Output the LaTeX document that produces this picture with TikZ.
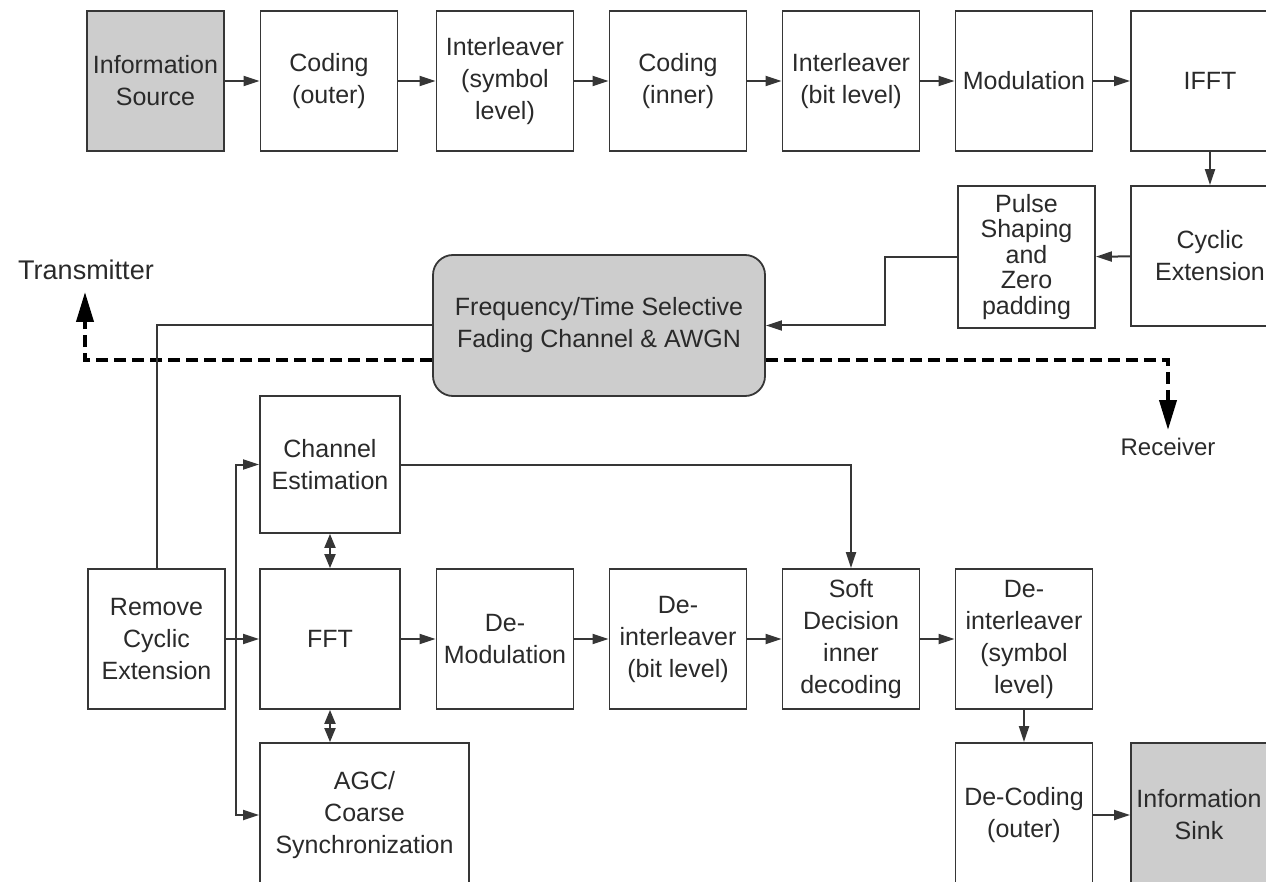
\documentclass[tikz,border=0pt]{standalone}
\usepackage{fontspec}
\setmainfont{Liberation Sans}
\usetikzlibrary{arrows.meta,calc}
\definecolor{boxgray}{HTML}{CDCDCD}
\definecolor{ln}{HTML}{363636}
\definecolor{txt}{HTML}{2A2A2A}
\begin{document}
\begin{tikzpicture}[x=1pt,y=-1pt,
  blk/.style={draw=ln, line width=1.8pt, fill=white, inner sep=0pt, align=center,
    text=txt, font=\fontsize{25}{32}\selectfont, minimum width=137pt, minimum height=140pt},
  shaded/.style={fill=boxgray},
  arr/.style={draw=ln, line width=2pt, -{Triangle[length=16pt,width=10pt]}},
  plain/.style={draw=ln, line width=2pt},
  dbl/.style={draw=ln, line width=2pt, {Triangle[length=14pt,width=11pt]}-{Triangle[length=14pt,width=11pt]}},
  dsh/.style={draw=black, line width=4pt, dash pattern=on 12pt off 6pt, -{Triangle[length=30pt,width=17pt]}},
  lbl/.style={text=txt, inner sep=0pt}
]
\useasboundingbox (0,0) rectangle (1266,882);
\clip (0,0) rectangle (1266,882);

% top row
\node[blk, shaded] (src) at (155.5,81) {Information\\Source};
\node[blk] (cod) at (329,81) {Coding\\(outer)};
\node[blk] (ilv) at (505,81) {Interleaver\\(symbol\\level)};
\node[blk] (codi) at (678,81) {Coding\\(inner)};
\node[blk] (ilb) at (851,81) {Interleaver\\(bit level)};
\node[blk] (mod) at (1024,81) {Modulation};
\node[blk, minimum width=158pt] (ifft) at (1210,81) {IFFT};

% second row
\node[blk, minimum height=142pt, font=\fontsize{25}{25.5}\selectfont] (pulse) at (1026.5,257) {Pulse\\Shaping\\and\\Zero\\padding};
\node[blk, minimum width=158pt] (cyc) at (1210,256) {Cyclic\\Extension};

% dashed transmitter / receiver arrows (behind channel)
\coordinate (txtip) at (85,292);
\coordinate (rxtip) at (1168,430);
\node[lbl, font=\fontsize{27}{30}\selectfont] (tlabel) at (86,270) {Transmitter};
\node[lbl, font=\fontsize{24}{26}\selectfont] (rlabel) at (1168,447) {Receiver};

\node[blk, shaded, rounded corners=20pt, minimum width=332pt, minimum height=141pt] (ch) at (599,325.5) {Frequency/Time Selective\\Fading Channel \& AWGN};

\draw[dsh] ($(ch.west)+(0,34.5)$) -| (txtip);
\draw[dsh] ($(ch.east)+(0,34.5)$) -| (rxtip);

% receiver blocks
\node[blk, minimum width=137pt] (rem) at (156.5,639) {Remove\\Cyclic\\Extension};
\node[blk, minimum width=140pt] (fft) at (330,639) {FFT};
\node[blk] (dmod) at (505,639) {De-\\Modulation};
\node[blk] (dib) at (678,639) {De-\\interleaver\\(bit level)};
\node[blk] (soft) at (851,639) {Soft\\Decision\\inner\\decoding};
\node[blk] (dis) at (1024,639) {De-\\interleaver\\(symbol\\level)};
\node[blk, minimum width=140pt, minimum height=137pt] (chest) at (330,464.5) {Channel\\Estimation};
\node[blk, minimum width=209pt, minimum height=144pt] (agc) at (364.5,815) {AGC/\\Coarse\\Synchronization};
\node[blk, minimum height=144pt] (dec) at (1024,815) {De-Coding\\(outer)};
\node[blk, shaded, minimum width=136pt, minimum height=144pt] (sink) at (1199,815) {Information\\Sink};

% transmitter chain
\draw[arr] (src) -- (cod);
\draw[arr] (cod) -- (ilv);
\draw[arr] (ilv) -- (codi);
\draw[arr] (codi) -- (ilb);
\draw[arr] (ilb) -- (mod);
\draw[arr] (mod) -- (ifft);
\draw[arr] (ifft) -- (cyc);
\draw[arr] (cyc) -- (pulse);
\draw[arr] (pulse.west) -- ++(-72,0) |- (ch.east);

% channel to receiver
\draw[plain] (ch.west) -| (rem.north);

% receiver chain
\coordinate (br) at ($(rem.east)+(10,0)$);
\draw[arr] (rem) -- (fft);
\draw[arr] (br) |- (chest.west);
\draw[arr] (br) |- (agc.west);
\draw[dbl] (chest.south) -- (fft.north);
\draw[dbl] (fft.south) -- (fft.south |- agc.north);
\draw[arr] (chest.east) -| (soft.north);
\draw[arr] (fft) -- (dmod);
\draw[arr] (dmod) -- (dib);
\draw[arr] (dib) -- (soft);
\draw[arr] (soft) -- (dis);
\draw[arr] (dis) -- (dec);
\draw[arr] (dec) -- (sink);
\end{tikzpicture}
\end{document}
